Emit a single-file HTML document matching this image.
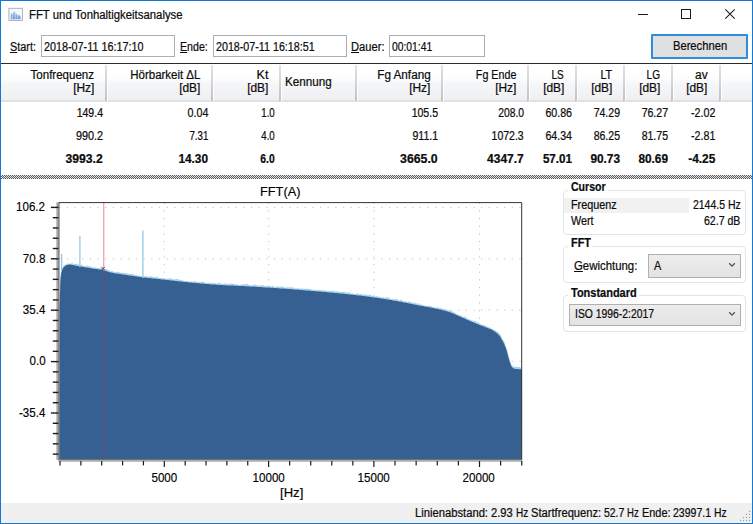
<!DOCTYPE html>
<html lang="de">
<head>
<meta charset="utf-8">
<title>FFT und Tonhaltigkeitsanalyse</title>
<style>
html,body{margin:0;padding:0;background:#fff;}
body{width:753px;height:524px;position:relative;overflow:hidden;font-family:"Liberation Sans",sans-serif;font-size:12px;color:#000;}
.win{position:absolute;left:0;top:0;width:751px;height:522px;border:1px solid #1279d4;background:#fff;}
.abs{position:absolute;box-sizing:border-box;}
.t{position:absolute;white-space:pre;line-height:1;color:#0c0c0c;-webkit-text-stroke:0.22px #0c0c0c;}
.t.ch{color:#000;-webkit-text-stroke:0.15px #000;}
.inp{position:absolute;box-sizing:border-box;border:1px solid #abadb3;background:#fff;height:22.300px;top:35.200px;}
.btn{position:absolute;box-sizing:border-box;left:651px;top:34px;width:96.500px;height:24.500px;border:2px solid #2f8edb;background:#e0e0e0;border-radius:1px;}
.hdr{position:absolute;left:1px;top:64px;width:751px;height:37.500px;background:linear-gradient(#ffffff 0,#fefefe 36%,#f5f6f8 52%,#edeff2 100%);}
.hline{position:absolute;left:1px;top:63px;width:751px;height:1px;background:#2b2b2b;}
.hsep{position:absolute;top:65px;width:1.300px;height:36px;background:linear-gradient(#e2e2e2,#c2c2c2);border-right:1px solid #fff;margin-left:0.400px;}
.hbot{position:absolute;left:1px;top:100.200px;width:751px;height:1.400px;background:#e1e2e4;}
.split{position:absolute;left:1px;top:175px;width:751px;height:3.500px;
 background-image:conic-gradient(#5a5a5a 25%,#e6e6e6 0 50%,#5a5a5a 0 75%,#e6e6e6 0);background-size:2px 2px;}
.gb{position:absolute;box-sizing:border-box;border:1px solid #dde4ea;border-radius:4px;}
.gbl{position:absolute;background:#fff;height:14px;}
.combo{position:absolute;box-sizing:border-box;border:1px solid #b0b0b0;background:linear-gradient(#ededed,#e2e2e2);}
.status{position:absolute;left:1px;top:502.500px;width:751px;height:20.500px;background:#f0f0f0;}
.chart{position:absolute;left:0;top:0;}
</style>
</head>
<body>
<div class="win"></div>
<!-- title bar icon -->
<svg class="abs" style="left:8px;top:7px" width="16" height="15" viewBox="0 0 16 15">
<defs><linearGradient id="ig" x1="0" y1="0" x2="0" y2="1"><stop offset="0" stop-color="#b9cbf0"/><stop offset="1" stop-color="#6e92dc"/></linearGradient></defs>
<rect x="0.9" y="1.3" width="13.6" height="12.2" fill="#f5f7fd" stroke="#a9abb5" stroke-width="0.9"/>
<path d="M2.800 12.300V7.200L3.600 5.600L4.400 8.200L5.300 5.400L6.200 4L7.100 5.600L8 7.400L9 6.800L10 8.400L11.200 8.100L12.600 9.600V12.300Z" fill="url(#ig)"/>
<path d="M4.500 8.500v3.800M7.300 6.500v5.800M9.600 8v4.300" stroke="#dfe8fa" stroke-width="0.6" fill="none"/>
</svg>
<!-- window controls -->
<svg class="abs" style="left:620px;top:1px" width="132" height="30" viewBox="0 0 132 30">
<path d="M18 13.500h10" stroke="#1a1a1a" stroke-width="1" fill="none"/>
<rect x="61.500" y="8.500" width="9" height="9" stroke="#1a1a1a" stroke-width="1" fill="none"/>
<path d="M105.300 8.300l9.400 9.400M114.700 8.300l-9.400 9.400" stroke="#1a1a1a" stroke-width="1.050" fill="none"/>
</svg>
<!-- inputs -->
<div class="inp" style="left:40.700px;width:134.300px"></div>
<div class="inp" style="left:212.800px;width:134.600px"></div>
<div class="inp" style="left:388.800px;width:96.600px"></div>
<div class="btn"></div>
<!-- table header -->
<div class="hline"></div>
<div class="hdr"></div>
<div class="hbot"></div>
<div class="hsep" style="left:105px"></div><div class="hsep" style="left:211px"></div><div class="hsep" style="left:279px"></div><div class="hsep" style="left:355px"></div><div class="hsep" style="left:441px"></div><div class="hsep" style="left:527px"></div><div class="hsep" style="left:575px"></div><div class="hsep" style="left:623px"></div><div class="hsep" style="left:671px"></div><div class="hsep" style="left:719px"></div>
<div class="split"></div>
<!-- chart -->
<svg class="chart" width="753" height="524" viewBox="0 0 753 524">
<rect x="59" y="202" width="463" height="257.4" fill="#fff"/>
<g stroke="#c2c2c2" stroke-width="1" stroke-dasharray="1.2 6.47"><line x1="59.2" y1="207.4" x2="521.5" y2="207.4"/><line x1="59.2" y1="258.8" x2="521.5" y2="258.8"/><line x1="59.2" y1="310.2" x2="521.5" y2="310.2"/><line x1="59.2" y1="361.4" x2="521.5" y2="361.4"/><line x1="59.2" y1="412.6" x2="521.5" y2="412.6"/><line x1="164.3" y1="202.6" x2="164.3" y2="459"/><line x1="268.6" y1="202.6" x2="268.6" y2="459"/><line x1="373.9" y1="202.6" x2="373.9" y2="459"/><line x1="479.5" y1="202.6" x2="479.5" y2="459"/></g>
<polygon points="59.6,304.7 60.6,275.8 61.6,269.5 62.6,267.7 63.6,265.6 64.6,264.9 65.6,264.8 66.6,263.7 67.6,264.0 68.6,263.2 69.6,263.7 70.6,263.7 71.6,263.4 72.6,263.0 73.6,264.1 74.6,264.2 75.6,263.9 76.6,263.6 77.6,264.3 78.6,264.8 79.6,264.1 80.6,265.6 81.6,264.6 82.6,265.6 83.6,266.0 84.6,266.2 85.6,266.1 86.6,265.5 87.6,266.6 88.6,266.2 89.6,266.3 90.6,266.8 91.6,266.7 92.6,267.6 93.6,267.7 94.6,267.7 95.6,267.2 96.6,267.7 97.6,268.0 98.6,267.7 99.6,268.1 100.6,268.4 101.6,267.9 102.6,268.3 103.6,269.1 104.6,268.9 105.6,269.3 106.6,269.2 107.6,269.8 108.6,270.7 109.6,270.0 110.6,271.5 111.6,271.3 112.6,271.0 113.6,272.0 114.6,271.7 115.6,272.5 116.6,271.8 117.6,271.8 118.6,272.2 119.6,272.0 120.6,272.9 121.6,272.5 122.6,272.8 123.6,272.9 124.6,273.3 125.6,272.9 126.6,272.9 127.6,273.7 128.6,273.6 129.6,274.6 130.6,273.8 131.6,274.1 132.6,273.7 133.6,274.1 134.6,275.0 135.6,275.0 136.6,274.8 137.6,275.8 138.6,275.3 139.6,275.9 140.6,276.1 141.6,276.3 142.6,275.4 143.6,276.4 144.6,276.4 145.6,276.3 146.6,275.7 147.6,277.0 148.6,276.6 149.6,276.5 150.6,276.2 151.6,276.4 152.6,276.4 153.6,277.3 154.6,277.2 155.6,277.4 156.6,276.8 157.6,276.8 158.6,278.0 159.6,278.1 160.6,278.1 161.6,278.2 162.6,278.0 163.6,277.9 164.6,278.5 165.6,279.0 166.6,278.5 167.6,278.7 168.6,278.5 169.6,278.1 170.6,278.6 171.6,278.9 172.6,278.9 173.6,278.9 174.6,279.9 175.6,278.8 176.6,279.1 177.6,279.1 178.6,279.3 179.6,280.0 180.6,280.1 181.6,280.6 182.6,280.0 183.6,280.9 184.6,281.0 185.6,280.9 186.6,281.1 187.6,280.9 188.6,281.4 189.6,281.6 190.6,281.5 191.6,281.6 192.6,281.4 193.6,281.9 194.6,280.8 195.6,281.3 196.6,282.1 197.6,282.0 198.6,282.0 199.6,282.0 200.6,282.5 201.6,281.5 202.6,281.4 203.6,282.2 204.6,282.3 205.6,283.0 206.6,283.0 207.6,282.8 208.6,282.9 209.6,282.2 210.6,283.3 211.6,283.5 212.6,282.3 213.6,283.0 214.6,283.6 215.6,283.1 216.6,283.9 217.6,283.2 218.6,282.7 219.6,282.9 220.6,283.2 221.6,283.9 222.6,283.8 223.6,284.1 224.6,283.3 225.6,283.7 226.6,283.4 227.6,284.1 228.6,284.3 229.6,283.5 230.6,283.4 231.6,283.6 232.6,283.7 233.6,283.7 234.6,283.9 235.6,284.6 236.6,284.3 237.6,284.5 238.6,285.0 239.6,285.1 240.6,284.8 241.6,284.8 242.6,284.3 243.6,283.9 244.6,284.7 245.6,284.1 246.6,284.1 247.6,284.2 248.6,285.0 249.6,285.3 250.6,285.3 251.6,285.4 252.6,285.5 253.6,285.0 254.6,284.6 255.6,284.8 256.6,285.4 257.6,285.2 258.6,285.0 259.6,286.1 260.6,285.4 261.6,285.1 262.6,285.3 263.6,285.4 264.6,285.9 265.6,286.4 266.6,285.6 267.6,286.3 268.6,285.7 269.6,285.5 270.6,286.4 271.6,286.4 272.6,285.7 273.6,286.1 274.6,287.0 275.6,287.1 276.6,287.1 277.6,286.1 278.6,286.3 279.6,287.3 280.6,286.4 281.6,286.3 282.6,286.8 283.6,287.3 284.6,287.1 285.6,287.8 286.6,288.0 287.6,286.7 288.6,287.3 289.6,287.5 290.6,287.0 291.6,287.8 292.6,287.2 293.6,287.4 294.6,288.3 295.6,288.4 296.6,288.4 297.6,288.5 298.6,288.1 299.6,288.7 300.6,288.5 301.6,289.0 302.6,288.0 303.6,288.9 304.6,288.8 305.6,288.7 306.6,288.4 307.6,289.1 308.6,288.5 309.6,289.2 310.6,289.2 311.6,289.3 312.6,290.1 313.6,289.6 314.6,290.1 315.6,290.4 316.6,289.4 317.6,290.3 318.6,290.0 319.6,289.7 320.6,290.1 321.6,290.5 322.6,290.3 323.6,290.3 324.6,290.1 325.6,291.1 326.6,290.6 327.6,291.1 328.6,291.1 329.6,290.5 330.6,291.0 331.6,291.0 332.6,290.8 333.6,290.7 334.6,291.5 335.6,291.3 336.6,291.6 337.6,291.6 338.6,291.5 339.6,291.9 340.6,291.9 341.6,292.1 342.6,291.5 343.6,292.0 344.6,291.8 345.6,291.9 346.6,292.9 347.6,292.6 348.6,292.2 349.6,292.4 350.6,293.5 351.6,293.7 352.6,293.3 353.6,294.0 354.6,293.8 355.6,294.2 356.6,293.5 357.6,293.4 358.6,293.4 359.6,294.5 360.6,293.9 361.6,294.1 362.6,294.9 363.6,294.0 364.6,294.0 365.6,295.2 366.6,294.3 367.6,295.2 368.6,295.2 369.6,294.6 370.6,295.0 371.6,296.0 372.6,295.8 373.6,295.8 374.6,296.2 375.6,296.5 376.6,296.5 377.6,296.1 378.6,297.2 379.6,296.6 380.6,296.9 381.6,297.7 382.6,297.4 383.6,297.1 384.6,297.4 385.6,298.2 386.6,297.1 387.6,297.5 388.6,297.4 389.6,298.8 390.6,298.8 391.6,299.3 392.6,298.4 393.6,299.3 394.6,299.6 395.6,299.4 396.6,298.9 397.6,299.2 398.6,300.2 399.6,300.5 400.6,299.6 401.6,300.3 402.6,300.3 403.6,301.4 404.6,301.6 405.6,301.0 406.6,301.5 407.6,302.2 408.6,301.2 409.6,301.8 410.6,301.8 411.6,303.0 412.6,302.1 413.6,303.5 414.6,302.5 415.6,303.3 416.6,303.7 417.6,303.6 418.6,303.2 419.6,304.3 420.6,304.7 421.6,304.4 422.6,304.9 423.6,305.3 424.6,305.4 425.6,305.7 426.6,305.7 427.6,305.7 428.6,305.9 429.6,305.5 430.6,306.3 431.6,306.2 432.6,306.9 433.6,306.8 434.6,307.5 435.6,307.4 436.6,307.9 437.6,307.1 438.6,307.6 439.6,308.3 440.6,308.2 441.6,307.8 442.6,309.2 443.6,308.5 444.6,309.3 445.6,309.5 446.6,309.3 447.6,310.2 448.6,310.3 449.6,310.4 450.6,310.3 451.6,311.6 452.6,311.3 453.6,311.9 454.6,312.4 455.6,313.2 456.6,313.7 457.6,314.6 458.6,314.9 459.6,315.4 460.6,314.9 461.6,316.1 462.6,316.6 463.6,317.2 464.6,316.6 465.6,317.0 466.6,317.7 467.6,318.7 468.6,319.2 469.6,319.5 470.6,319.7 471.6,320.6 472.6,320.6 473.6,321.3 474.6,320.7 475.6,321.1 476.6,322.1 477.6,322.9 478.6,322.3 479.6,323.6 480.6,324.0 481.6,324.8 482.6,324.7 483.6,325.0 484.6,325.3 485.6,326.1 486.6,326.1 487.6,327.1 488.6,327.1 489.6,327.8 490.6,327.8 491.6,328.7 492.6,329.3 493.6,329.5 494.6,330.3 495.6,330.6 496.6,331.5 497.6,332.0 498.6,332.6 499.6,334.1 500.6,334.8 501.6,336.8 502.6,339.5 503.6,340.3 504.6,342.5 505.6,345.8 506.6,348.4 507.6,351.6 508.6,355.7 509.6,359.2 510.6,362.6 511.6,365.1 512.6,366.2 513.6,366.4 514.6,366.6 515.6,366.9 516.6,366.7 517.6,367.1 518.6,367.0 519.6,367.0 520.6,367.8 521.6,367.0 522.0,369.6 521.2,369.6 520.4,369.6 519.6,369.5 518.8,369.5 518.0,369.4 517.2,369.4 516.4,369.3 515.6,369.2 514.8,369.1 514.0,368.9 513.2,368.5 512.4,367.9 511.6,366.9 510.8,365.1 510.0,362.9 509.2,360.4 508.4,357.3 507.6,354.2 506.8,351.3 506.0,348.9 505.2,346.6 504.4,344.7 503.6,343.1 502.8,341.6 502.0,340.1 501.2,338.7 500.4,337.4 499.6,336.3 498.8,335.4 498.0,334.6 497.2,333.8 496.4,333.1 495.6,332.5 494.8,331.9 494.0,331.3 493.2,330.8 492.4,330.3 491.6,329.9 490.8,329.5 490.0,329.2 489.2,328.8 488.4,328.5 487.6,328.2 486.8,327.9 486.0,327.7 485.2,327.4 484.4,327.1 483.6,326.7 482.8,326.4 482.0,326.1 481.2,325.8 480.4,325.5 479.6,325.2 478.8,324.8 478.0,324.5 477.2,324.2 476.4,323.9 475.6,323.6 474.8,323.2 474.0,322.9 473.2,322.6 472.4,322.2 471.6,321.9 470.8,321.6 470.0,321.2 469.2,320.9 468.4,320.5 467.6,320.2 466.8,319.8 466.0,319.5 465.2,319.1 464.4,318.8 463.6,318.4 462.8,318.1 462.0,317.7 461.2,317.3 460.4,317.0 459.6,316.6 458.8,316.2 458.0,315.9 457.2,315.6 456.4,315.2 455.6,314.9 454.8,314.5 454.0,314.2 453.2,313.8 452.4,313.5 451.6,313.2 450.8,312.9 450.0,312.6 449.2,312.3 448.4,312.1 447.6,311.8 446.8,311.6 446.0,311.4 445.2,311.1 444.4,310.9 443.6,310.7 442.8,310.5 442.0,310.3 441.2,310.1 440.4,309.9 439.6,309.7 438.8,309.5 438.0,309.3 437.2,309.2 436.4,309.0 435.6,308.8 434.8,308.7 434.0,308.5 433.2,308.3 432.4,308.2 431.6,308.0 430.8,307.9 430.0,307.7 429.2,307.5 428.4,307.4 427.6,307.3 426.8,307.1 426.0,307.0 425.2,306.8 424.4,306.7 423.6,306.5 422.8,306.4 422.0,306.3 421.2,306.1 420.4,306.0 419.6,305.8 418.8,305.7 418.0,305.5 417.2,305.4 416.4,305.2 415.6,305.0 414.8,304.9 414.0,304.7 413.2,304.6 412.4,304.4 411.6,304.2 410.8,304.1 410.0,303.9 409.2,303.8 408.4,303.6 407.6,303.4 406.8,303.3 406.0,303.1 405.2,302.9 404.4,302.8 403.6,302.6 402.8,302.5 402.0,302.3 401.2,302.1 400.4,302.0 399.6,301.8 398.8,301.7 398.0,301.5 397.2,301.4 396.4,301.2 395.6,301.1 394.8,301.0 394.0,300.8 393.2,300.7 392.4,300.5 391.6,300.4 390.8,300.3 390.0,300.1 389.2,300.0 388.4,299.9 387.6,299.7 386.8,299.6 386.0,299.5 385.2,299.4 384.4,299.2 383.6,299.1 382.8,299.0 382.0,298.8 381.2,298.7 380.4,298.6 379.6,298.5 378.8,298.4 378.0,298.2 377.2,298.1 376.4,298.0 375.6,297.9 374.8,297.8 374.0,297.7 373.2,297.6 372.4,297.5 371.6,297.4 370.8,297.3 370.0,297.2 369.2,297.0 368.4,296.9 367.6,296.8 366.8,296.7 366.0,296.6 365.2,296.5 364.4,296.4 363.6,296.3 362.8,296.2 362.0,296.1 361.2,296.0 360.4,295.9 359.6,295.9 358.8,295.8 358.0,295.7 357.2,295.6 356.4,295.5 355.6,295.4 354.8,295.3 354.0,295.2 353.2,295.1 352.4,295.0 351.6,294.9 350.8,294.8 350.0,294.8 349.2,294.7 348.4,294.6 347.6,294.5 346.8,294.4 346.0,294.3 345.2,294.2 344.4,294.2 343.6,294.1 342.8,294.0 342.0,293.9 341.2,293.8 340.4,293.7 339.6,293.7 338.8,293.6 338.0,293.5 337.2,293.4 336.4,293.3 335.6,293.3 334.8,293.2 334.0,293.1 333.2,293.0 332.4,293.0 331.6,292.9 330.8,292.8 330.0,292.8 329.2,292.7 328.4,292.6 327.6,292.5 326.8,292.5 326.0,292.4 325.2,292.3 324.4,292.3 323.6,292.2 322.8,292.1 322.0,292.1 321.2,292.0 320.4,291.9 319.6,291.8 318.8,291.8 318.0,291.7 317.2,291.6 316.4,291.6 315.6,291.5 314.8,291.4 314.0,291.4 313.2,291.3 312.4,291.2 311.6,291.2 310.8,291.1 310.0,291.0 309.2,290.9 308.4,290.9 307.6,290.8 306.8,290.7 306.0,290.7 305.2,290.6 304.4,290.5 303.6,290.5 302.8,290.4 302.0,290.3 301.2,290.3 300.4,290.2 299.6,290.1 298.8,290.1 298.0,290.0 297.2,289.9 296.4,289.9 295.6,289.8 294.8,289.7 294.0,289.7 293.2,289.6 292.4,289.6 291.6,289.5 290.8,289.4 290.0,289.4 289.2,289.3 288.4,289.3 287.6,289.2 286.8,289.1 286.0,289.1 285.2,289.0 284.4,289.0 283.6,288.9 282.8,288.9 282.0,288.8 281.2,288.7 280.4,288.7 279.6,288.6 278.8,288.6 278.0,288.5 277.2,288.5 276.4,288.4 275.6,288.4 274.8,288.3 274.0,288.3 273.2,288.2 272.4,288.1 271.6,288.1 270.8,288.0 270.0,288.0 269.2,287.9 268.4,287.9 267.6,287.8 266.8,287.8 266.0,287.7 265.2,287.7 264.4,287.6 263.6,287.6 262.8,287.5 262.0,287.5 261.2,287.4 260.4,287.4 259.6,287.3 258.8,287.3 258.0,287.2 257.2,287.2 256.4,287.1 255.6,287.1 254.8,287.0 254.0,287.0 253.2,286.9 252.4,286.9 251.6,286.8 250.8,286.8 250.0,286.7 249.2,286.7 248.4,286.6 247.6,286.6 246.8,286.5 246.0,286.5 245.2,286.5 244.4,286.4 243.6,286.4 242.8,286.3 242.0,286.3 241.2,286.3 240.4,286.2 239.6,286.2 238.8,286.2 238.0,286.1 237.2,286.1 236.4,286.1 235.6,286.0 234.8,286.0 234.0,286.0 233.2,285.9 232.4,285.9 231.6,285.9 230.8,285.8 230.0,285.8 229.2,285.8 228.4,285.7 227.6,285.7 226.8,285.6 226.0,285.6 225.2,285.5 224.4,285.5 223.6,285.5 222.8,285.4 222.0,285.4 221.2,285.3 220.4,285.3 219.6,285.2 218.8,285.2 218.0,285.1 217.2,285.0 216.4,285.0 215.6,284.9 214.8,284.9 214.0,284.8 213.2,284.8 212.4,284.7 211.6,284.7 210.8,284.6 210.0,284.5 209.2,284.5 208.4,284.4 207.6,284.3 206.8,284.3 206.0,284.2 205.2,284.1 204.4,284.1 203.6,284.0 202.8,283.9 202.0,283.9 201.2,283.8 200.4,283.7 199.6,283.6 198.8,283.6 198.0,283.5 197.2,283.4 196.4,283.3 195.6,283.3 194.8,283.2 194.0,283.1 193.2,283.0 192.4,283.0 191.6,282.9 190.8,282.8 190.0,282.7 189.2,282.7 188.4,282.6 187.6,282.5 186.8,282.4 186.0,282.3 185.2,282.2 184.4,282.2 183.6,282.1 182.8,282.0 182.0,281.9 181.2,281.8 180.4,281.7 179.6,281.6 178.8,281.5 178.0,281.5 177.2,281.4 176.4,281.3 175.6,281.2 174.8,281.1 174.0,281.0 173.2,280.9 172.4,280.8 171.6,280.7 170.8,280.6 170.0,280.6 169.2,280.5 168.4,280.4 167.6,280.3 166.8,280.2 166.0,280.1 165.2,280.0 164.4,279.9 163.6,279.8 162.8,279.8 162.0,279.7 161.2,279.6 160.4,279.5 159.6,279.4 158.8,279.3 158.0,279.3 157.2,279.2 156.4,279.1 155.6,279.0 154.8,278.9 154.0,278.9 153.2,278.8 152.4,278.7 151.6,278.6 150.8,278.5 150.0,278.4 149.2,278.4 148.4,278.3 147.6,278.2 146.8,278.1 146.0,278.0 145.2,277.9 144.4,277.8 143.6,277.7 142.8,277.6 142.0,277.5 141.2,277.4 140.4,277.3 139.6,277.2 138.8,277.1 138.0,277.0 137.2,276.9 136.4,276.8 135.6,276.6 134.8,276.5 134.0,276.4 133.2,276.3 132.4,276.2 131.6,276.1 130.8,275.9 130.0,275.8 129.2,275.7 128.4,275.6 127.6,275.5 126.8,275.3 126.0,275.2 125.2,275.1 124.4,275.0 123.6,274.9 122.8,274.7 122.0,274.6 121.2,274.5 120.4,274.4 119.6,274.3 118.8,274.2 118.0,274.1 117.2,273.9 116.4,273.8 115.6,273.7 114.8,273.5 114.0,273.4 113.2,273.3 112.4,273.1 111.6,272.9 110.8,272.8 110.0,272.6 109.2,272.4 108.4,272.1 107.6,271.9 106.8,271.6 106.0,271.3 105.2,271.0 104.4,270.8 103.6,270.5 102.8,270.4 102.0,270.2 101.2,270.1 100.4,269.9 99.6,269.8 98.8,269.7 98.0,269.6 97.2,269.4 96.4,269.3 95.6,269.2 94.8,269.1 94.0,269.0 93.2,268.9 92.4,268.7 91.6,268.6 90.8,268.5 90.0,268.3 89.2,268.2 88.4,268.1 87.6,267.9 86.8,267.8 86.0,267.7 85.2,267.5 84.4,267.4 83.6,267.3 82.8,267.1 82.0,267.0 81.2,266.9 80.4,266.7 79.6,266.6 78.8,266.5 78.0,266.3 77.2,266.2 76.4,266.0 75.6,265.8 74.8,265.7 74.0,265.5 73.2,265.3 72.4,265.2 71.6,265.1 70.8,265.0 70.0,264.9 69.2,264.9 68.4,265.0 67.6,265.2 66.8,265.4 66.0,265.8 65.2,266.2 64.4,266.7 63.6,267.5 62.8,268.6 62.0,270.2 61.2,273.3 60.4,279.1 59.6,306.3" fill="#a6d3ec"/>
<polygon points="59.4,459.6 59.6,306.0 60.4,278.8 61.2,273.0 62.0,269.9 62.8,268.3 63.6,267.2 64.4,266.4 65.2,265.9 66.0,265.5 66.8,265.1 67.6,264.9 68.4,264.7 69.2,264.6 70.0,264.6 70.8,264.7 71.6,264.8 72.4,264.9 73.2,265.0 74.0,265.2 74.8,265.4 75.6,265.5 76.4,265.7 77.2,265.9 78.0,266.0 78.8,266.2 79.6,266.3 80.4,266.4 81.2,266.6 82.0,266.7 82.8,266.8 83.6,267.0 84.4,267.1 85.2,267.2 86.0,267.4 86.8,267.5 87.6,267.6 88.4,267.8 89.2,267.9 90.0,268.0 90.8,268.2 91.6,268.3 92.4,268.4 93.2,268.6 94.0,268.7 94.8,268.8 95.6,268.9 96.4,269.0 97.2,269.1 98.0,269.3 98.8,269.4 99.6,269.5 100.4,269.6 101.2,269.8 102.0,269.9 102.8,270.1 103.6,270.2 104.4,270.5 105.2,270.7 106.0,271.0 106.8,271.3 107.6,271.6 108.4,271.8 109.2,272.1 110.0,272.3 110.8,272.5 111.6,272.6 112.4,272.8 113.2,273.0 114.0,273.1 114.8,273.2 115.6,273.4 116.4,273.5 117.2,273.6 118.0,273.8 118.8,273.9 119.6,274.0 120.4,274.1 121.2,274.2 122.0,274.3 122.8,274.4 123.6,274.6 124.4,274.7 125.2,274.8 126.0,274.9 126.8,275.0 127.6,275.2 128.4,275.3 129.2,275.4 130.0,275.5 130.8,275.6 131.6,275.8 132.4,275.9 133.2,276.0 134.0,276.1 134.8,276.2 135.6,276.3 136.4,276.5 137.2,276.6 138.0,276.7 138.8,276.8 139.6,276.9 140.4,277.0 141.2,277.1 142.0,277.2 142.8,277.3 143.6,277.4 144.4,277.5 145.2,277.6 146.0,277.7 146.8,277.8 147.6,277.9 148.4,278.0 149.2,278.1 150.0,278.1 150.8,278.2 151.6,278.3 152.4,278.4 153.2,278.5 154.0,278.6 154.8,278.6 155.6,278.7 156.4,278.8 157.2,278.9 158.0,279.0 158.8,279.0 159.6,279.1 160.4,279.2 161.2,279.3 162.0,279.4 162.8,279.5 163.6,279.5 164.4,279.6 165.2,279.7 166.0,279.8 166.8,279.9 167.6,280.0 168.4,280.1 169.2,280.2 170.0,280.3 170.8,280.3 171.6,280.4 172.4,280.5 173.2,280.6 174.0,280.7 174.8,280.8 175.6,280.9 176.4,281.0 177.2,281.1 178.0,281.2 178.8,281.2 179.6,281.3 180.4,281.4 181.2,281.5 182.0,281.6 182.8,281.7 183.6,281.8 184.4,281.9 185.2,281.9 186.0,282.0 186.8,282.1 187.6,282.2 188.4,282.3 189.2,282.4 190.0,282.4 190.8,282.5 191.6,282.6 192.4,282.7 193.2,282.7 194.0,282.8 194.8,282.9 195.6,283.0 196.4,283.0 197.2,283.1 198.0,283.2 198.8,283.3 199.6,283.3 200.4,283.4 201.2,283.5 202.0,283.6 202.8,283.6 203.6,283.7 204.4,283.8 205.2,283.8 206.0,283.9 206.8,284.0 207.6,284.0 208.4,284.1 209.2,284.2 210.0,284.2 210.8,284.3 211.6,284.4 212.4,284.4 213.2,284.5 214.0,284.5 214.8,284.6 215.6,284.6 216.4,284.7 217.2,284.7 218.0,284.8 218.8,284.9 219.6,284.9 220.4,285.0 221.2,285.0 222.0,285.1 222.8,285.1 223.6,285.2 224.4,285.2 225.2,285.2 226.0,285.3 226.8,285.3 227.6,285.4 228.4,285.4 229.2,285.5 230.0,285.5 230.8,285.5 231.6,285.6 232.4,285.6 233.2,285.6 234.0,285.7 234.8,285.7 235.6,285.7 236.4,285.8 237.2,285.8 238.0,285.8 238.8,285.9 239.6,285.9 240.4,285.9 241.2,286.0 242.0,286.0 242.8,286.0 243.6,286.1 244.4,286.1 245.2,286.2 246.0,286.2 246.8,286.2 247.6,286.3 248.4,286.3 249.2,286.4 250.0,286.4 250.8,286.5 251.6,286.5 252.4,286.6 253.2,286.6 254.0,286.7 254.8,286.7 255.6,286.8 256.4,286.8 257.2,286.9 258.0,286.9 258.8,287.0 259.6,287.0 260.4,287.1 261.2,287.1 262.0,287.2 262.8,287.2 263.6,287.3 264.4,287.3 265.2,287.4 266.0,287.4 266.8,287.5 267.6,287.5 268.4,287.6 269.2,287.6 270.0,287.7 270.8,287.7 271.6,287.8 272.4,287.8 273.2,287.9 274.0,288.0 274.8,288.0 275.6,288.1 276.4,288.1 277.2,288.2 278.0,288.2 278.8,288.3 279.6,288.3 280.4,288.4 281.2,288.4 282.0,288.5 282.8,288.6 283.6,288.6 284.4,288.7 285.2,288.7 286.0,288.8 286.8,288.8 287.6,288.9 288.4,289.0 289.2,289.0 290.0,289.1 290.8,289.1 291.6,289.2 292.4,289.3 293.2,289.3 294.0,289.4 294.8,289.4 295.6,289.5 296.4,289.6 297.2,289.6 298.0,289.7 298.8,289.8 299.6,289.8 300.4,289.9 301.2,290.0 302.0,290.0 302.8,290.1 303.6,290.2 304.4,290.2 305.2,290.3 306.0,290.4 306.8,290.4 307.6,290.5 308.4,290.6 309.2,290.6 310.0,290.7 310.8,290.8 311.6,290.9 312.4,290.9 313.2,291.0 314.0,291.1 314.8,291.1 315.6,291.2 316.4,291.3 317.2,291.3 318.0,291.4 318.8,291.5 319.6,291.5 320.4,291.6 321.2,291.7 322.0,291.8 322.8,291.8 323.6,291.9 324.4,292.0 325.2,292.0 326.0,292.1 326.8,292.2 327.6,292.2 328.4,292.3 329.2,292.4 330.0,292.5 330.8,292.5 331.6,292.6 332.4,292.7 333.2,292.7 334.0,292.8 334.8,292.9 335.6,293.0 336.4,293.0 337.2,293.1 338.0,293.2 338.8,293.3 339.6,293.4 340.4,293.4 341.2,293.5 342.0,293.6 342.8,293.7 343.6,293.8 344.4,293.9 345.2,293.9 346.0,294.0 346.8,294.1 347.6,294.2 348.4,294.3 349.2,294.4 350.0,294.5 350.8,294.5 351.6,294.6 352.4,294.7 353.2,294.8 354.0,294.9 354.8,295.0 355.6,295.1 356.4,295.2 357.2,295.3 358.0,295.4 358.8,295.5 359.6,295.6 360.4,295.6 361.2,295.7 362.0,295.8 362.8,295.9 363.6,296.0 364.4,296.1 365.2,296.2 366.0,296.3 366.8,296.4 367.6,296.5 368.4,296.6 369.2,296.7 370.0,296.9 370.8,297.0 371.6,297.1 372.4,297.2 373.2,297.3 374.0,297.4 374.8,297.5 375.6,297.6 376.4,297.7 377.2,297.8 378.0,297.9 378.8,298.1 379.6,298.2 380.4,298.3 381.2,298.4 382.0,298.5 382.8,298.7 383.6,298.8 384.4,298.9 385.2,299.1 386.0,299.2 386.8,299.3 387.6,299.4 388.4,299.6 389.2,299.7 390.0,299.8 390.8,300.0 391.6,300.1 392.4,300.2 393.2,300.4 394.0,300.5 394.8,300.7 395.6,300.8 396.4,300.9 397.2,301.1 398.0,301.2 398.8,301.4 399.6,301.5 400.4,301.7 401.2,301.8 402.0,302.0 402.8,302.2 403.6,302.3 404.4,302.5 405.2,302.6 406.0,302.8 406.8,303.0 407.6,303.1 408.4,303.3 409.2,303.5 410.0,303.6 410.8,303.8 411.6,303.9 412.4,304.1 413.2,304.3 414.0,304.4 414.8,304.6 415.6,304.7 416.4,304.9 417.2,305.1 418.0,305.2 418.8,305.4 419.6,305.5 420.4,305.7 421.2,305.8 422.0,306.0 422.8,306.1 423.6,306.2 424.4,306.4 425.2,306.5 426.0,306.7 426.8,306.8 427.6,307.0 428.4,307.1 429.2,307.2 430.0,307.4 430.8,307.6 431.6,307.7 432.4,307.9 433.2,308.0 434.0,308.2 434.8,308.4 435.6,308.5 436.4,308.7 437.2,308.9 438.0,309.0 438.8,309.2 439.6,309.4 440.4,309.6 441.2,309.8 442.0,310.0 442.8,310.2 443.6,310.4 444.4,310.6 445.2,310.8 446.0,311.1 446.8,311.3 447.6,311.5 448.4,311.8 449.2,312.0 450.0,312.3 450.8,312.6 451.6,312.9 452.4,313.2 453.2,313.5 454.0,313.9 454.8,314.2 455.6,314.6 456.4,314.9 457.2,315.3 458.0,315.6 458.8,315.9 459.6,316.3 460.4,316.7 461.2,317.0 462.0,317.4 462.8,317.8 463.6,318.1 464.4,318.5 465.2,318.8 466.0,319.2 466.8,319.5 467.6,319.9 468.4,320.2 469.2,320.6 470.0,320.9 470.8,321.3 471.6,321.6 472.4,321.9 473.2,322.3 474.0,322.6 474.8,322.9 475.6,323.3 476.4,323.6 477.2,323.9 478.0,324.2 478.8,324.5 479.6,324.9 480.4,325.2 481.2,325.5 482.0,325.8 482.8,326.1 483.6,326.4 484.4,326.8 485.2,327.1 486.0,327.4 486.8,327.6 487.6,327.9 488.4,328.2 489.2,328.5 490.0,328.9 490.8,329.2 491.6,329.6 492.4,330.0 493.2,330.5 494.0,331.0 494.8,331.6 495.6,332.2 496.4,332.8 497.2,333.5 498.0,334.3 498.8,335.1 499.6,336.0 500.4,337.1 501.2,338.4 502.0,339.8 502.8,341.3 503.6,342.8 504.4,344.4 505.2,346.3 506.0,348.6 506.8,351.0 507.6,353.9 508.4,357.0 509.2,360.1 510.0,362.6 510.8,364.8 511.6,366.6 512.4,367.6 513.2,368.2 514.0,368.6 514.8,368.8 515.6,368.9 516.4,369.0 517.2,369.1 518.0,369.1 518.8,369.2 519.6,369.2 520.4,369.3 521.2,369.3 522.0,369.3 521.7,459.6" fill="#376092"/>
<g stroke="#8fcbe8" stroke-width="1.3">
<line x1="61.6" y1="253.8" x2="61.6" y2="270"/>
<line x1="79.9" y1="236" x2="79.9" y2="267"/>
<line x1="142.9" y1="230.5" x2="142.9" y2="278"/>
</g>
<line x1="103.7" y1="203" x2="103.7" y2="270.5" stroke="#f7a3b0" stroke-width="1.35"/>
<line x1="103.6" y1="270.5" x2="103.6" y2="459.4" stroke="#684b78" stroke-width="1.1"/>
<path d="M101.3 266.8 l3.4 3.4 M104.9 266.8 l-3.4 3.4" stroke="#2a2a2a" stroke-width="0.8" fill="none"/>
<path d="M58.9 459.4 V202.6 H521.7 V459.4" fill="none" stroke="#333" stroke-width="1"/>
<rect x="56" y="202.3" width="1.3" height="257.49999999999994" fill="#c6c6c6"/><rect x="57.3" y="202.3" width="1.2" height="257.49999999999994" fill="#8c8c8c"/>
<rect x="58.4" y="459.29999999999995" width="463.80000000000007" height="1.3" fill="#5c5c5c"/>
<rect x="58.4" y="460.59999999999997" width="463.80000000000007" height="1.4" fill="#c2c2c2"/>
<g stroke="#1a1a1a" stroke-width="1.4"><line x1="50.9" y1="207.40" x2="58.4" y2="207.40"/><line x1="52.8" y1="217.68" x2="58.4" y2="217.68"/><line x1="52.8" y1="227.96" x2="58.4" y2="227.96"/><line x1="52.8" y1="238.24" x2="58.4" y2="238.24"/><line x1="52.8" y1="248.52" x2="58.4" y2="248.52"/><line x1="50.9" y1="258.80" x2="58.4" y2="258.80"/><line x1="52.8" y1="269.08" x2="58.4" y2="269.08"/><line x1="52.8" y1="279.36" x2="58.4" y2="279.36"/><line x1="52.8" y1="289.64" x2="58.4" y2="289.64"/><line x1="52.8" y1="299.92" x2="58.4" y2="299.92"/><line x1="50.9" y1="310.20" x2="58.4" y2="310.20"/><line x1="52.8" y1="320.48" x2="58.4" y2="320.48"/><line x1="52.8" y1="330.76" x2="58.4" y2="330.76"/><line x1="52.8" y1="341.04" x2="58.4" y2="341.04"/><line x1="52.8" y1="351.32" x2="58.4" y2="351.32"/><line x1="50.9" y1="361.60" x2="58.4" y2="361.60"/><line x1="52.8" y1="371.88" x2="58.4" y2="371.88"/><line x1="52.8" y1="382.16" x2="58.4" y2="382.16"/><line x1="52.8" y1="392.44" x2="58.4" y2="392.44"/><line x1="52.8" y1="402.72" x2="58.4" y2="402.72"/><line x1="50.9" y1="413.00" x2="58.4" y2="413.00"/><line x1="52.8" y1="423.28" x2="58.4" y2="423.28"/><line x1="52.8" y1="433.56" x2="58.4" y2="433.56"/><line x1="52.8" y1="443.84" x2="58.4" y2="443.84"/><line x1="52.8" y1="454.12" x2="58.4" y2="454.12"/></g>
<g stroke="#1a1a1a" stroke-width="1.2"><line x1="60.00" y1="461" x2="60.00" y2="465.4"/><line x1="80.86" y1="461" x2="80.86" y2="465.4"/><line x1="101.72" y1="461" x2="101.72" y2="465.4"/><line x1="122.58" y1="461" x2="122.58" y2="465.4"/><line x1="143.44" y1="461" x2="143.44" y2="465.4"/><line x1="164.30" y1="461" x2="164.30" y2="467.0"/><line x1="185.16" y1="461" x2="185.16" y2="465.4"/><line x1="206.02" y1="461" x2="206.02" y2="465.4"/><line x1="226.88" y1="461" x2="226.88" y2="465.4"/><line x1="247.74" y1="461" x2="247.74" y2="465.4"/><line x1="268.60" y1="461" x2="268.60" y2="467.0"/><line x1="289.66" y1="461" x2="289.66" y2="465.4"/><line x1="310.72" y1="461" x2="310.72" y2="465.4"/><line x1="331.78" y1="461" x2="331.78" y2="465.4"/><line x1="352.84" y1="461" x2="352.84" y2="465.4"/><line x1="373.90" y1="461" x2="373.90" y2="467.0"/><line x1="395.02" y1="461" x2="395.02" y2="465.4"/><line x1="416.14" y1="461" x2="416.14" y2="465.4"/><line x1="437.26" y1="461" x2="437.26" y2="465.4"/><line x1="458.38" y1="461" x2="458.38" y2="465.4"/><line x1="479.50" y1="461" x2="479.50" y2="467.0"/><line x1="500.62" y1="461" x2="500.62" y2="465.4"/><line x1="521.74" y1="461" x2="521.74" y2="465.4"/></g>
</svg>
<!-- right panel -->
<div class="gb" style="left:562.600px;top:189.500px;width:183.200px;height:45px"></div>
<div class="gbl" style="left:568px;top:182px;width:40px"></div>
<div class="abs" style="left:564px;top:197.500px;width:125px;height:15px;background:#f1f1f1"></div>
<div class="gb" style="left:562.600px;top:245.500px;width:183.200px;height:37.500px"></div>
<div class="gbl" style="left:568px;top:238px;width:24px"></div>
<div class="combo" style="left:648px;top:254px;width:93px;height:24px"></div>
<svg class="abs" style="left:727px;top:261px" width="10" height="8" viewBox="0 0 10 8"><path d="M2.200 2.300l2.800 2.800 2.800-2.800" stroke="#505050" stroke-width="1.3" fill="none"/></svg>
<div class="gb" style="left:562.600px;top:295.300px;width:183.200px;height:36.300px"></div>
<div class="gbl" style="left:568px;top:288px;width:71px"></div>
<div class="combo" style="left:569px;top:304px;width:172px;height:22px"></div>
<svg class="abs" style="left:727px;top:310px" width="10" height="8" viewBox="0 0 10 8"><path d="M2.200 2.300l2.800 2.800 2.800-2.800" stroke="#505050" stroke-width="1.3" fill="none"/></svg>
<!-- status bar -->
<div class="status"></div>
<svg class="abs" style="left:737px;top:508px" width="15" height="15" viewBox="0 0 15 15"><rect x="12.8" y="3.7" width="1.2" height="1.2" fill="#fff"/><rect x="11.9" y="2.8" width="1.3" height="1.3" fill="#a3a3a3"/><rect x="12.8" y="6.7" width="1.2" height="1.2" fill="#fff"/><rect x="11.9" y="5.8" width="1.3" height="1.3" fill="#a3a3a3"/><rect x="9.8" y="6.7" width="1.2" height="1.2" fill="#fff"/><rect x="8.9" y="5.8" width="1.3" height="1.3" fill="#a3a3a3"/><rect x="12.8" y="9.8" width="1.2" height="1.2" fill="#fff"/><rect x="11.9" y="8.9" width="1.3" height="1.3" fill="#a3a3a3"/><rect x="9.8" y="9.8" width="1.2" height="1.2" fill="#fff"/><rect x="8.9" y="8.9" width="1.3" height="1.3" fill="#a3a3a3"/><rect x="6.8" y="9.8" width="1.2" height="1.2" fill="#fff"/><rect x="5.9" y="8.9" width="1.3" height="1.3" fill="#a3a3a3"/><rect x="12.8" y="12.8" width="1.2" height="1.2" fill="#fff"/><rect x="11.9" y="11.9" width="1.3" height="1.3" fill="#a3a3a3"/><rect x="9.8" y="12.8" width="1.2" height="1.2" fill="#fff"/><rect x="8.9" y="11.9" width="1.3" height="1.3" fill="#a3a3a3"/><rect x="6.8" y="12.8" width="1.2" height="1.2" fill="#fff"/><rect x="5.9" y="11.9" width="1.3" height="1.3" fill="#a3a3a3"/><rect x="3.8" y="12.8" width="1.2" height="1.2" fill="#fff"/><rect x="2.9" y="11.9" width="1.3" height="1.3" fill="#a3a3a3"/></svg>
<span class="t" style="left:28.80px;top:9.02px;transform:scaleX(0.9084);transform-origin:0 0;font-size:12.5px;">FFT und Tonhaltigkeitsanalyse</span>
<span class="t" style="left:10.20px;top:40.54px;transform:scaleX(0.9063);transform-origin:0 0;"><u>S</u>tart:</span>
<span class="t" style="left:43.90px;top:40.54px;transform:scaleX(0.8992);transform-origin:0 0;">2018-07-11 16:17:10</span>
<span class="t" style="left:180.00px;top:40.54px;transform:scaleX(0.8861);transform-origin:0 0;"><u>E</u>nde:</span>
<span class="t" style="left:215.70px;top:40.54px;transform:scaleX(0.8919);transform-origin:0 0;">2018-07-11 16:18:51</span>
<span class="t" style="left:351.20px;top:40.54px;transform:scaleX(0.9297);transform-origin:0 0;"><u>D</u>auer:</span>
<span class="t" style="left:391.50px;top:40.54px;transform:scaleX(0.8605);transform-origin:0 0;">00:01:41</span>
<span class="t" style="left:670.58px;top:40.34px;transform:scaleX(0.9337);transform-origin:50% 0;">Berechnen</span>
<span class="t" style="left:28.30px;top:68.64px;transform:scaleX(0.9614);transform-origin:100% 0;">Tonfrequenz</span>
<span class="t" style="left:73.01px;top:82.44px;transform:scaleX(0.9933);transform-origin:100% 0;">[Hz]</span>
<span class="t" style="left:72.82px;top:106.84px;transform:scaleX(0.8791);transform-origin:100% 0;">149.4</span>
<span class="t" style="left:72.82px;top:129.84px;transform:scaleX(0.9041);transform-origin:100% 0;">990.2</span>
<span class="t" style="left:66.15px;top:152.84px;transform:scaleX(1.0122);transform-origin:100% 0;font-weight:700;">3993.2</span>
<span class="t" style="left:126.61px;top:68.64px;transform:scaleX(0.9552);transform-origin:100% 0;">Hörbarkeit ΔL</span>
<span class="t" style="left:178.64px;top:82.44px;transform:scaleX(0.9925);transform-origin:100% 0;">[dB]</span>
<span class="t" style="left:184.84px;top:106.84px;transform:scaleX(0.8947);transform-origin:100% 0;">0.04</span>
<span class="t" style="left:184.84px;top:129.84px;transform:scaleX(0.8091);transform-origin:100% 0;">7.31</span>
<span class="t" style="left:178.17px;top:152.84px;transform:scaleX(0.9873);transform-origin:100% 0;font-weight:700;">14.30</span>
<span class="t" style="left:256.56px;top:68.64px;transform:scaleX(1.0358);transform-origin:100% 0;">Kt</span>
<span class="t" style="left:246.54px;top:82.44px;transform:scaleX(0.9925);transform-origin:100% 0;">[dB]</span>
<span class="t" style="left:258.21px;top:106.84px;transform:scaleX(0.8030);transform-origin:100% 0;">1.0</span>
<span class="t" style="left:258.21px;top:129.84px;transform:scaleX(0.8030);transform-origin:100% 0;">4.0</span>
<span class="t" style="left:258.21px;top:152.84px;transform:scaleX(0.8629);transform-origin:100% 0;font-weight:700;">6.0</span>
<span class="t" style="left:285.00px;top:75.84px;transform:scaleX(0.9730);transform-origin:0 0;">Kennung</span>
<span class="t" style="left:375.63px;top:68.64px;transform:scaleX(0.9777);transform-origin:100% 0;">Fg Anfang</span>
<span class="t" style="left:409.01px;top:82.44px;transform:scaleX(0.9933);transform-origin:100% 0;">[Hz]</span>
<span class="t" style="left:407.92px;top:106.84px;transform:scaleX(0.8791);transform-origin:100% 0;">105.5</span>
<span class="t" style="left:408.81px;top:129.84px;transform:scaleX(0.8802);transform-origin:100% 0;">911.1</span>
<span class="t" style="left:401.25px;top:152.84px;transform:scaleX(1.0258);transform-origin:100% 0;font-weight:700;">3665.0</span>
<span class="t" style="left:471.02px;top:68.64px;transform:scaleX(0.8926);transform-origin:100% 0;">Fg Ende</span>
<span class="t" style="left:495.06px;top:82.44px;transform:scaleX(0.9933);transform-origin:100% 0;">[Hz]</span>
<span class="t" style="left:494.07px;top:106.84px;transform:scaleX(0.8624);transform-origin:100% 0;">208.0</span>
<span class="t" style="left:487.40px;top:129.84px;transform:scaleX(0.8759);transform-origin:100% 0;">1072.3</span>
<span class="t" style="left:487.40px;top:152.84px;transform:scaleX(0.9986);transform-origin:100% 0;font-weight:700;">4347.7</span>
<span class="t" style="left:549.41px;top:68.64px;transform:scaleX(0.8340);transform-origin:100% 0;">LS</span>
<span class="t" style="left:542.74px;top:82.44px;transform:scaleX(0.9925);transform-origin:100% 0;">[dB]</span>
<span class="t" style="left:542.27px;top:106.84px;transform:scaleX(0.8874);transform-origin:100% 0;">60.86</span>
<span class="t" style="left:542.27px;top:129.84px;transform:scaleX(0.8874);transform-origin:100% 0;">64.34</span>
<span class="t" style="left:542.27px;top:152.84px;transform:scaleX(0.9707);transform-origin:100% 0;font-weight:700;">57.01</span>
<span class="t" style="left:599.23px;top:68.64px;transform:scaleX(0.8952);transform-origin:100% 0;">LT</span>
<span class="t" style="left:590.99px;top:82.44px;transform:scaleX(0.9925);transform-origin:100% 0;">[dB]</span>
<span class="t" style="left:590.32px;top:106.84px;transform:scaleX(0.8791);transform-origin:100% 0;">74.29</span>
<span class="t" style="left:590.32px;top:129.84px;transform:scaleX(0.8791);transform-origin:100% 0;">86.25</span>
<span class="t" style="left:590.32px;top:152.84px;transform:scaleX(0.9873);transform-origin:100% 0;font-weight:700;">90.73</span>
<span class="t" style="left:644.33px;top:68.64px;transform:scaleX(0.8429);transform-origin:100% 0;">LG</span>
<span class="t" style="left:638.99px;top:82.44px;transform:scaleX(0.9925);transform-origin:100% 0;">[dB]</span>
<span class="t" style="left:638.32px;top:106.84px;transform:scaleX(0.8791);transform-origin:100% 0;">76.27</span>
<span class="t" style="left:638.32px;top:129.84px;transform:scaleX(0.8791);transform-origin:100% 0;">81.75</span>
<span class="t" style="left:638.32px;top:152.84px;transform:scaleX(0.9873);transform-origin:100% 0;font-weight:700;">80.69</span>
<span class="t" style="left:695.11px;top:68.64px;transform:scaleX(0.9931);transform-origin:100% 0;">av</span>
<span class="t" style="left:686.44px;top:82.44px;transform:scaleX(0.9925);transform-origin:100% 0;">[dB]</span>
<span class="t" style="left:688.04px;top:106.84px;transform:scaleX(0.8918);transform-origin:100% 0;">-2.02</span>
<span class="t" style="left:688.04px;top:129.84px;transform:scaleX(0.8918);transform-origin:100% 0;">-2.81</span>
<span class="t" style="left:688.04px;top:152.84px;transform:scaleX(0.9942);transform-origin:100% 0;font-weight:700;">-4.25</span>
<span class="t" style="left:570.70px;top:180.94px;transform:scaleX(0.8794);transform-origin:0 0;font-weight:700;">Cursor</span>
<span class="t" style="left:571.00px;top:198.54px;transform:scaleX(0.9000);transform-origin:0 0;">Frequenz</span>
<span class="t" style="left:686.10px;top:198.54px;transform:scaleX(0.8738);transform-origin:100% 0;">2144.5 Hz</span>
<span class="t" style="left:571.00px;top:214.54px;transform:scaleX(0.9000);transform-origin:0 0;">Wert</span>
<span class="t" style="left:699.42px;top:214.54px;transform:scaleX(0.8798);transform-origin:100% 0;">62.7 dB</span>
<span class="t" style="left:570.70px;top:237.04px;transform:scaleX(0.9045);transform-origin:0 0;font-weight:700;">FFT</span>
<span class="t" style="left:574.20px;top:259.64px;transform:scaleX(0.9488);transform-origin:0 0;"><u>G</u>ewichtung:</span>
<span class="t" style="left:654.00px;top:259.64px;transform:scaleX(0.9000);transform-origin:0 0;">A</span>
<span class="t" style="left:570.70px;top:286.94px;transform:scaleX(0.9153);transform-origin:0 0;font-weight:700;">Tonstandard</span>
<span class="t" style="left:575.00px;top:308.44px;transform:scaleX(0.8643);transform-origin:0 0;">ISO 1996-2:2017</span>
<span class="t" style="left:414.90px;top:506.54px;transform:scaleX(0.9350);transform-origin:0 0;">Linienabstand:</span>
<span class="t" style="left:491.40px;top:506.54px;transform:scaleX(0.9290);transform-origin:0 0;">2.93</span>
<span class="t" style="left:515.50px;top:506.54px;transform:scaleX(0.8383);transform-origin:0 0;">Hz</span>
<span class="t" style="left:530.60px;top:506.54px;transform:scaleX(0.9313);transform-origin:0 0;">Startfrequenz:</span>
<span class="t" style="left:604.20px;top:506.54px;transform:scaleX(0.8690);transform-origin:0 0;">52.7</span>
<span class="t" style="left:627.10px;top:506.54px;transform:scaleX(0.7974);transform-origin:0 0;">Hz</span>
<span class="t" style="left:642.10px;top:506.54px;transform:scaleX(0.9088);transform-origin:0 0;">Ende:</span>
<span class="t" style="left:673.00px;top:506.54px;transform:scaleX(0.8758);transform-origin:0 0;">23997.1</span>
<span class="t" style="left:714.30px;top:506.54px;transform:scaleX(0.8656);transform-origin:0 0;">Hz</span>
<span class="t ch" style="left:260.44px;top:185.66px;transform:scaleX(1.0021);transform-origin:50% 0;font-size:12.8px;">FFT(A)</span>
<span class="t ch" style="left:15.17px;top:201.44px;transform:scaleX(0.9650);transform-origin:100% 0;">106.2</span>
<span class="t ch" style="left:21.84px;top:252.84px;transform:scaleX(0.9650);transform-origin:100% 0;">70.8</span>
<span class="t ch" style="left:21.84px;top:304.24px;transform:scaleX(0.9650);transform-origin:100% 0;">35.4</span>
<span class="t ch" style="left:28.51px;top:355.44px;transform:scaleX(0.9650);transform-origin:100% 0;">0.0</span>
<span class="t ch" style="left:17.84px;top:406.64px;transform:scaleX(0.9650);transform-origin:100% 0;">-35.4</span>
<span class="t ch" style="left:150.55px;top:472.24px;transform:scaleX(0.9650);transform-origin:50% 0;">5000</span>
<span class="t ch" style="left:251.51px;top:472.24px;transform:scaleX(0.9650);transform-origin:50% 0;">10000</span>
<span class="t ch" style="left:356.81px;top:472.24px;transform:scaleX(0.9650);transform-origin:50% 0;">15000</span>
<span class="t ch" style="left:462.41px;top:472.24px;transform:scaleX(0.9650);transform-origin:50% 0;">20000</span>
<span class="t ch" style="left:280.53px;top:486.74px;transform:scaleX(1.0870);transform-origin:50% 0;">[Hz]</span>
</body>
</html>
